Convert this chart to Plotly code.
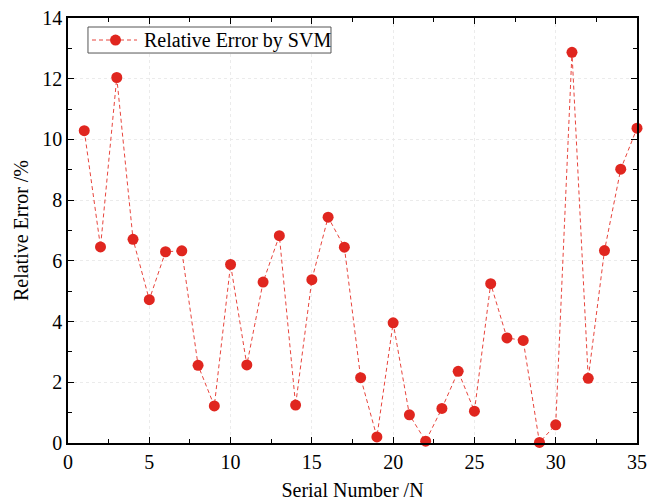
import plotly.graph_objects as go

serial = list(range(1, 36))
rel_error = [
    10.29, 6.46, 12.04, 6.71, 4.72, 6.30, 6.33, 2.56, 1.22, 5.88,
    2.57, 5.30, 6.83, 1.25, 5.38, 7.44, 6.45, 2.15, 0.20, 3.96,
    0.93, 0.06, 1.14, 2.36, 1.05, 5.25, 3.46, 3.38, 0.02, 0.60,
    12.87, 2.13, 6.34, 9.02, 10.37,
]
series_name = "Relative Error by SVM"

font = "Liberation Serif"
line_red = "#E8453D"
dot_red = "#E0261F"

fig = go.Figure()
fig.add_trace(
    go.Scatter(
        x=serial,
        y=rel_error,
        mode="lines+markers",
        name=series_name,
        line=dict(color=line_red, width=1, dash="4px,3px"),
        marker=dict(color=dot_red, size=11),
        cliponaxis=False,
        showlegend=False,
    )
)

axis_common = dict(
    showline=True,
    linecolor="black",
    linewidth=1.5,
    mirror="allticks",
    ticks="inside",
    ticklen=6,
    tickwidth=1,
    tickcolor="black",
    showgrid=True,
    gridcolor="#EBEBEB",
    griddash="dot",
    gridwidth=1,
    zeroline=False,
    automargin=False,
    ticklabeloverflow="allow",
    tickfont=dict(family=font, size=20, color="black"),
)

fig.update_xaxes(
    range=[0, 35],
    dtick=5,
    tick0=0,
    minor=dict(dtick=2.5, ticks="inside", ticklen=4, tickcolor="black", showgrid=False),
    title=dict(text="Serial Number /N", font=dict(family=font, size=20, color="black"), standoff=11),
    **axis_common,
)
fig.update_yaxes(
    range=[0, 14],
    dtick=2,
    tick0=0,
    minor=dict(dtick=1, ticks="inside", ticklen=4, tickcolor="black", showgrid=False),
    title=dict(text="Relative Error /%", font=dict(family=font, size=20, color="black"), standoff=8),
    **axis_common,
)

# legend drawn by hand so the box is as tight as the original
fig.add_shape(type="rect", xref="paper", yref="paper",
              x0=0.0351, x1=0.4622, y0=0.9176, y1=0.9788,
              line=dict(color="#555555", width=1), fillcolor="white", layer="above")
fig.add_shape(type="line", xref="paper", yref="paper",
              x0=0.0422, x1=0.1213, y0=0.9482, y1=0.9482,
              line=dict(color=line_red, width=1, dash="4px,3px"), layer="above")
fig.add_shape(type="circle", xref="paper", yref="paper",
              xsizemode="pixel", ysizemode="pixel", xanchor=0.0835, yanchor=0.9482,
              x0=-5.5, x1=5.5, y0=-5.5, y1=5.5,
              line=dict(width=0), fillcolor=dot_red, layer="above")
fig.add_annotation(text=series_name, xref="paper", yref="paper",
                   x=0.130, y=0.9482, xanchor="left", yanchor="middle",
                   showarrow=False, font=dict(family=font, size=20, color="black"))

fig.update_layout(
    width=649,
    height=501,
    margin=dict(l=68, r=12, t=18, b=58),
    font=dict(family=font, size=20, color="black"),
    plot_bgcolor="white",
    paper_bgcolor="white",
    showlegend=False,
)

fig.write_html(
    "out.html",
    config={"displayModeBar": False},
    post_script="document.body.style.margin='0';",
)
